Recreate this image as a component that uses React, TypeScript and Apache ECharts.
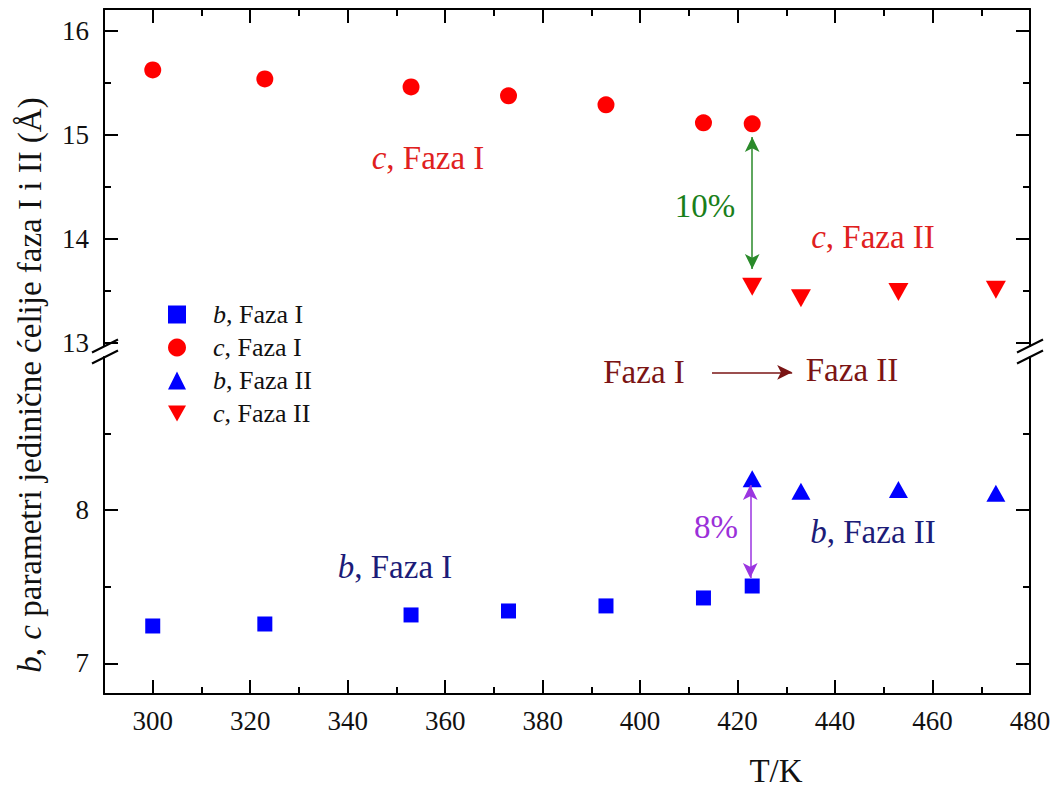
import React, { useEffect, useRef } from "react";
import * as echarts from "echarts";

// ---- data ----
const tempsI = [300, 323, 353, 373, 393, 413, 423];
const tempsII = [423, 433, 453, 473];
const bFazaI = [7.244, 7.257, 7.316, 7.342, 7.375, 7.427, 7.505];
const cFazaI = [15.624, 15.538, 15.461, 15.375, 15.289, 15.116, 15.106];
const bFazaII = [8.206, 8.123, 8.135, 8.11];
const cFazaII = [13.54, 13.43, 13.49, 13.51];

const xMajorTicks = [300, 320, 340, 360, 380, 400, 420, 440, 460, 480];
const xMinorTicks = [310, 330, 350, 370, 390, 410, 430, 450, 470];
const upperMajorTicks = [13, 14, 15, 16];
const upperMinorTicks = [13.5, 14.5, 15.5];
const lowerMajorTicks = [7, 8];
const lowerMinorTicks = [7.5, 8.5];

const seriesNames = ["b, Faza I", "c, Faza I", "b, Faza II", "c, Faza II"];

const FONT = "Liberation Serif";
const X_MIN = 290;
const X_MAX = 480;
const UP_MIN = 12.97;
const UP_MAX = 16.21;
const LO_MIN = 6.8;
const LO_MAX = 9.0;

const DOWN_TRI = "path://M0,0L20,0L10,18Z";

function xAxisDef(gridIndex: number, position: string, ticks: number[], len: number, line: boolean, labels: boolean) {
  return {
    type: "value",
    gridIndex,
    position,
    min: X_MIN,
    max: X_MAX,
    axisLine: { show: line, onZero: false, lineStyle: { color: "#000", width: 2 } },
    axisTick: { show: true, inside: true, length: len, customValues: ticks, lineStyle: { color: "#000", width: 2 } },
    axisLabel: labels
      ? { show: true, customValues: ticks, margin: 13, fontFamily: FONT, fontSize: 27, color: "#111" }
      : { show: false },
    splitLine: { show: false },
  };
}

function yAxisDef(gridIndex: number, position: string, min: number, max: number, ticks: number[], len: number, line: boolean, labels: boolean) {
  return {
    type: "value",
    gridIndex,
    position,
    min,
    max,
    axisLine: { show: line, onZero: false, lineStyle: { color: "#000", width: 2 } },
    axisTick: { show: true, inside: true, length: len, customValues: ticks, lineStyle: { color: "#000", width: 2 } },
    axisLabel: labels
      ? { show: true, customValues: ticks, margin: 15, fontFamily: FONT, fontSize: 27, color: "#111" }
      : { show: false },
    splitLine: { show: false },
  };
}

function richLabel(letter: string, rest: string) {
  return `{i|${letter}}{n|${rest}}`;
}

function annText(x: number, y: number, text: string, color: string, size: number) {
  return {
    type: "text",
    x,
    y,
    silent: true,
    style: {
      text,
      align: "center",
      verticalAlign: "middle",
      fill: color,
      fontFamily: FONT,
      fontSize: size,
      rich: {
        i: { fontStyle: "italic", fontFamily: FONT, fontSize: size, fill: color },
        n: { fontFamily: FONT, fontSize: size, fill: color },
      },
    },
  };
}

function slash(x: number, y: number) {
  return {
    type: "line",
    silent: true,
    shape: { x1: x - 13, y1: y + 6.5, x2: x + 13, y2: y - 6.5 },
    style: { stroke: "#000", lineWidth: 2 },
  };
}

export default function App() {
  const ref = useRef<HTMLDivElement>(null);

  useEffect(() => {
    document.body.style.margin = "0";
    if (!ref.current) return;
    const chart = echarts.init(ref.current, undefined, { renderer: "svg" });

    const option: any = {
      animation: false,
      backgroundColor: "#fff",
      textStyle: { fontFamily: FONT },
      grid: [
        { left: 104, right: 24, top: 9, height: 337 },
        { left: 104, right: 24, top: 357, height: 337 },
      ],
      xAxis: [
        xAxisDef(0, "top", xMajorTicks, 14, true, false),
        xAxisDef(0, "top", xMinorTicks, 7, false, false),
        xAxisDef(1, "bottom", xMajorTicks, 14, true, true),
        xAxisDef(1, "bottom", xMinorTicks, 7, false, false),
      ],
      yAxis: [
        yAxisDef(0, "left", UP_MIN, UP_MAX, upperMajorTicks, 14, true, true),
        yAxisDef(0, "left", UP_MIN, UP_MAX, upperMinorTicks, 7, false, false),
        yAxisDef(0, "right", UP_MIN, UP_MAX, upperMajorTicks, 14, true, false),
        yAxisDef(0, "right", UP_MIN, UP_MAX, upperMinorTicks, 7, false, false),
        yAxisDef(1, "left", LO_MIN, LO_MAX, lowerMajorTicks, 14, true, true),
        yAxisDef(1, "left", LO_MIN, LO_MAX, lowerMinorTicks, 7, false, false),
        yAxisDef(1, "right", LO_MIN, LO_MAX, lowerMajorTicks, 14, true, false),
        yAxisDef(1, "right", LO_MIN, LO_MAX, lowerMinorTicks, 7, false, false),
      ],
      legend: {
        orient: "vertical",
        left: 168,
        top: 301,
        padding: 0,
        itemWidth: 18,
        itemHeight: 18,
        itemGap: 6,
        data: [
          { name: seriesNames[0], icon: "rect" },
          { name: seriesNames[1], icon: "circle" },
          { name: seriesNames[2], icon: "triangle" },
          { name: seriesNames[3], icon: DOWN_TRI },
        ],
        formatter: (name: string) => richLabel(name[0], name.slice(1)),
        textStyle: {
          fontFamily: FONT,
          fontSize: 26,
          color: "#111",
          lineHeight: 27,
          rich: {
            i: { fontStyle: "italic", fontFamily: FONT, fontSize: 26, color: "#111", lineHeight: 27, padding: [0, 0, 0, 22] },
            n: { fontFamily: FONT, fontSize: 26, color: "#111", lineHeight: 27 },
          },
        },
      },
      series: [
        {
          name: seriesNames[0],
          type: "scatter",
          xAxisIndex: 2,
          yAxisIndex: 4,
          symbol: "rect",
          symbolSize: 15,
          itemStyle: { color: "#0000ff", opacity: 1 },
          data: tempsI.map((t, i) => [t, bFazaI[i]]),
          markLine: {
            silent: true,
            symbolSize: [11, 15],
            label: { show: false },
            data: [
              [
                { coord: [422.6, 8.164], symbol: "arrow", lineStyle: { color: "#9b35e0", width: 1.5, type: "solid" } },
                { coord: [422.6, 7.557], symbol: "arrow" },
              ],
              [
                { coord: [414.75, 8.9], symbol: "none", lineStyle: { color: "#7a1414", width: 1.5, type: "solid" } },
                { coord: [431.2, 8.9], symbol: "arrow" },
              ],
            ],
          },
        },
        {
          name: seriesNames[1],
          type: "scatter",
          xAxisIndex: 0,
          yAxisIndex: 0,
          symbol: "circle",
          symbolSize: 17,
          itemStyle: { color: "#ff0000", opacity: 1 },
          data: tempsI.map((t, i) => [t, cFazaI[i]]),
          markLine: {
            silent: true,
            symbol: ["arrow", "arrow"],
            symbolSize: [11, 15],
            label: { show: false },
            lineStyle: { color: "#2a8a2a", width: 1.5, type: "solid" },
            data: [[{ coord: [423, 14.98] }, { coord: [423, 13.71] }]],
          },
        },
        {
          name: seriesNames[2],
          type: "scatter",
          xAxisIndex: 2,
          yAxisIndex: 4,
          symbol: "triangle",
          symbolSize: [19, 17],
          itemStyle: { color: "#0000ff", opacity: 1 },
          data: tempsII.map((t, i) => [t, bFazaII[i]]),
        },
        {
          name: seriesNames[3],
          type: "scatter",
          xAxisIndex: 0,
          yAxisIndex: 0,
          symbol: DOWN_TRI,
          symbolSize: [20, 18],
          itemStyle: { color: "#ff0000", opacity: 1 },
          data: tempsII.map((t, i) => [t, cFazaII[i]]),
        },
      ],
      graphic: [
        // axis break marks
        { type: "rect", silent: true, shape: { x: 98, y: 347, width: 12, height: 9 }, style: { fill: "#fff" } },
        { type: "rect", silent: true, shape: { x: 1024, y: 347, width: 12, height: 9 }, style: { fill: "#fff" } },
        slash(105, 346),
        slash(105, 357),
        slash(1030, 346),
        slash(1030, 357),
        // annotations
        annText(428, 158, richLabel("c", ", Faza I"), "#e02020", 33),
        annText(873, 237, richLabel("c", ", Faza II"), "#e02020", 33),
        annText(395, 567, richLabel("b", ", Faza I"), "#1c1c78", 33),
        annText(873, 532, richLabel("b", ", Faza II"), "#1c1c78", 33),
        annText(644, 372, "{n|Faza I}", "#7b1414", 33),
        annText(852, 370, "{n|Faza II}", "#7b1414", 33),
        annText(705, 206, "{n|10%}", "#1a7f1a", 33),
        annText(716, 527, "{n|8%}", "#9b30d9", 33),
        // axis titles
        annText(776, 771, "{n|T/K}", "#111", 33),
        {
          type: "text",
          x: 30,
          y: 385,
          rotation: Math.PI / 2,
          silent: true,
          style: {
            text: "{i|b}{n|, }{i|c}{n| parametri jedinične ćelije faza I i II (Å)}",
            align: "center",
            verticalAlign: "middle",
            fill: "#111",
            fontFamily: FONT,
            fontSize: 33,
            rich: {
              i: { fontStyle: "italic", fontFamily: FONT, fontSize: 33, fill: "#111" },
              n: { fontFamily: FONT, fontSize: 33, fill: "#111" },
            },
          },
        },
      ],
    };

    chart.setOption(option);
    return () => chart.dispose();
  }, []);

  return <div ref={ref} style={{ width: 1054, height: 789, background: "#fff" }} />;
}
